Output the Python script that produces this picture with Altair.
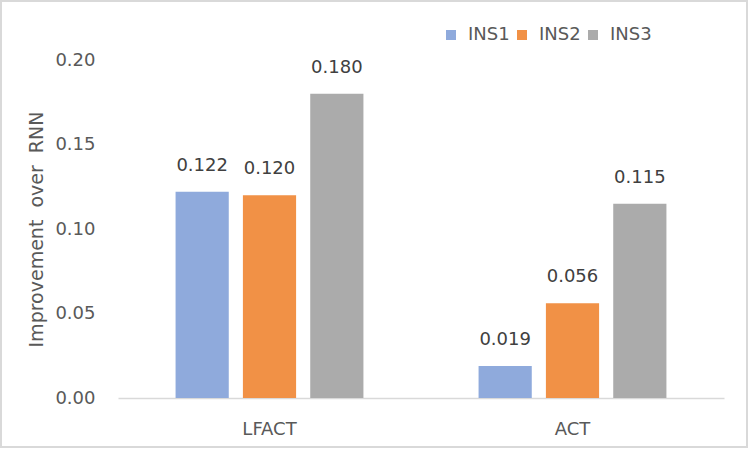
import altair as alt
import pandas as pd

categories = ["LFACT", "ACT"]
series = ["INS1", "INS2", "INS3"]
ins1 = [0.122, 0.019]
ins2 = [0.120, 0.056]
ins3 = [0.180, 0.115]
colors = ["#8FAADC", "#F19146", "#ABABAB"]

rows = []
for i, c in enumerate(categories):
    for s, vals in zip(series, [ins1, ins2, ins3]):
        rows.append({"cat": c, "series": s, "value": vals[i], "label": f"{vals[i]:.3f}"})
df = pd.DataFrame(rows)

FONT = "DejaVu Sans"
FS = 18
x = alt.X("cat:N", sort=categories, title=None,
          scale=alt.Scale(paddingInner=0.38, paddingOuter=0.19),
          axis=alt.Axis(labelAngle=0, labelFontSize=FS, labelColor="#595959", labelFont=FONT,
                        ticks=False, domainColor="#D9D9D9", domainWidth=1.5, labelPadding=22))
xo = alt.XOffset("series:N", sort=series, scale=alt.Scale(paddingInner=0.21, paddingOuter=0))
y = alt.Y("value:Q", scale=alt.Scale(domain=[0, 0.2]),
          axis=alt.Axis(values=[0, 0.05, 0.1, 0.15, 0.2], format=".2f", grid=False, ticks=False,
                        domain=False, labelFontSize=FS, labelColor="#595959", labelFont=FONT,
                        labelPadding=23, title="Improvement\u00a0 over\u00a0 RNN",
                        titleFontSize=19, titleFont=FONT, titleColor="#595959",
                        titleFontWeight="normal", titleX=-72, titleY=169))

bars = alt.Chart(df).mark_bar().encode(
    x=x, xOffset=xo, y=y,
    color=alt.Color("series:N", sort=series, scale=alt.Scale(domain=series, range=colors),
                    legend=alt.Legend(title=None, orient="none", direction="horizontal",
                                      legendX=324, legendY=-34, symbolType="square",
                                      symbolSize=100, symbolStrokeWidth=0, labelFontSize=FS,
                                      labelFont=FONT, labelColor="#595959", labelOffset=8,
                                      columnPadding=3)),
)
text = alt.Chart(df).mark_text(baseline="bottom", dy=-17, fontSize=FS, font=FONT,
                               color="#404040").encode(
    x=x, xOffset=xo, y=y, text="label:N")

border = alt.Chart(pd.DataFrame({"a": [0]})).mark_rect(
    fill=None, stroke="#D9D9D9", strokeWidth=2).encode(
    x=alt.value(-117), x2=alt.value(629), y=alt.value(-59), y2=alt.value(387))

chart = alt.layer(bars, text, border).properties(
    width=606, height=338,
    background="white",
    autosize=alt.AutoSizeParams(type="none"),
    padding={"left": 118, "top": 60, "right": 26, "bottom": 52},
).configure_view(strokeWidth=0, stroke="transparent")

chart.save("out.html", embed_options={"renderer": "svg", "actions": False})
